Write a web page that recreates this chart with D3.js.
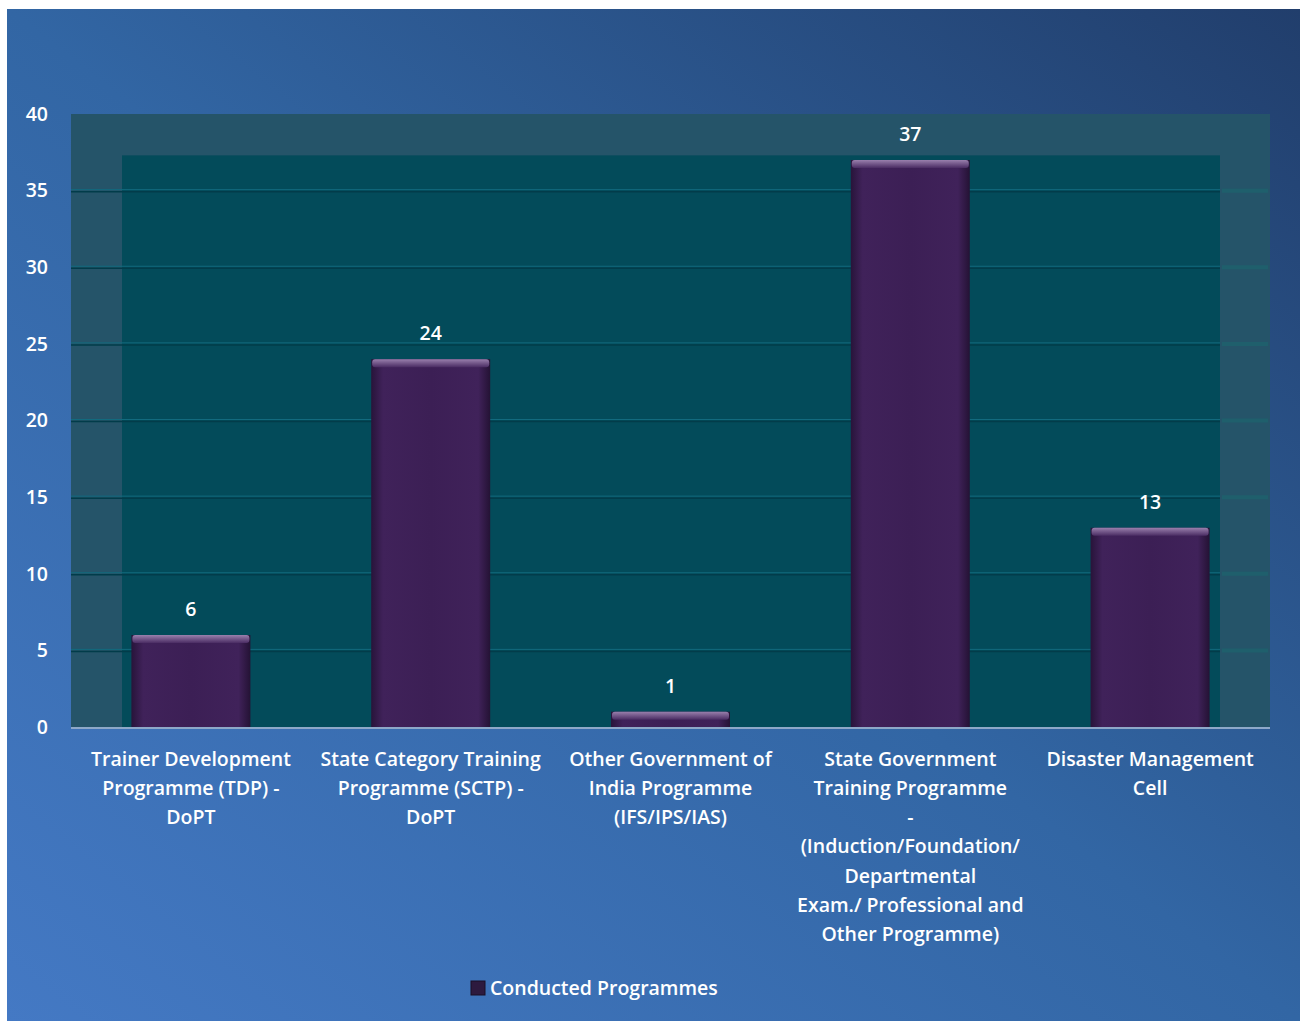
<!DOCTYPE html>
<html lang="en">
<head>
<meta charset="utf-8"/>
<title>Conducted Programmes</title>
<script src="https://d3js.org/d3.v7.min.js"></script>
<style>
	body { margin: 0; background: #fff; }
	text { font-family: "Open Sans", "Noto Sans", sans-serif; fill: #fff; font-weight: 600; }
</style>
</head>
<body>
<svg id="chart" width="1305" height="1021"></svg>
<script>
// data
var categories = ["TDP", "SCTP", "OGOI", "SGTP", "DMC"];
var labelLines = [
	["Trainer Development", "Programme (TDP) -", "DoPT"],
	["State Category Training", "Programme (SCTP) -", "DoPT"],
	["Other Government of", "India Programme", "(IFS/IPS/IAS)"],
	["State Government", "Training Programme", "-", "(Induction/Foundation/", "Departmental", "Exam./ Professional and", "Other Programme)"],
	["Disaster Management", "Cell"]
];
var values = [6, 24, 1, 37, 13];
var yTicks = [0, 5, 10, 15, 20, 25, 30, 35, 40];
var seriesName = "Conducted Programmes";

var svg = d3.select("#chart");

// background gradient
var defs = svg.append("defs");
var bg = defs.append("linearGradient")
	.attr("id", "bg")
	.attr("x1", "0%").attr("y1", "100%")
	.attr("x2", "100%").attr("y2", "0%");
bg.append("stop").attr("offset", "0%").attr("stop-color", "#4479c4");
bg.append("stop").attr("offset", "50%").attr("stop-color", "#3266a4");
bg.append("stop").attr("offset", "100%").attr("stop-color", "#213e6c");

var barGrad = defs.append("linearGradient")
	.attr("id", "bar")
	.attr("x1", "0%").attr("y1", "0%").attr("x2", "100%").attr("y2", "0%");
barGrad.append("stop").attr("offset", "0%").attr("stop-color", "#28143a");
barGrad.append("stop").attr("offset", "10%").attr("stop-color", "#40225a");
barGrad.append("stop").attr("offset", "50%").attr("stop-color", "#3c1f55");
barGrad.append("stop").attr("offset", "90%").attr("stop-color", "#40225a");
barGrad.append("stop").attr("offset", "100%").attr("stop-color", "#241234");

var capGrad = defs.append("linearGradient")
	.attr("id", "cap")
	.attr("x1", "0%").attr("y1", "0%").attr("x2", "0%").attr("y2", "100%");
capGrad.append("stop").attr("offset", "0%").attr("stop-color", "#9a80ad");
capGrad.append("stop").attr("offset", "100%").attr("stop-color", "#4a2c63");

svg.append("rect")
	.attr("x", 7).attr("y", 9)
	.attr("width", 1293).attr("height", 1012)
	.attr("fill", "url(#bg)");

// plot area
var plotL = 71, plotR = 1270, plotT = 114, plotB = 727;

var x = d3.scaleBand()
	.domain(categories)
	.range([plotL, plotR])
	.paddingInner(0)
	.paddingOuter(0);

var y = d3.scaleLinear()
	.domain([0, 40])
	.range([plotB, plotT]);

// outer wall + inner wall
svg.append("rect")
	.attr("x", plotL).attr("y", plotT)
	.attr("width", plotR - plotL).attr("height", plotB - plotT)
	.attr("fill", "#255469");
svg.append("rect")
	.attr("x", 122).attr("y", y(37.3))
	.attr("width", 1220 - 122).attr("height", plotB - y(37.3))
	.attr("fill", "#034b5a");

// gridlines
var gridTicks = yTicks.filter(function(d) { return d > 0 && d < 37; });
var grid = svg.append("g");
grid.selectAll("line.g1")
	.data(gridTicks)
	.enter().append("line")
	.attr("class", "g1")
	.attr("x1", plotL).attr("x2", 1220)
	.attr("y1", function(d) { return y(d) - 1; })
	.attr("y2", function(d) { return y(d) - 1; })
	.attr("stroke", "#126a7e").attr("stroke-width", 1);
grid.selectAll("line.g2")
	.data(gridTicks)
	.enter().append("line")
	.attr("class", "g2")
	.attr("x1", plotL).attr("x2", 1220)
	.attr("y1", function(d) { return y(d) + 1; })
	.attr("y2", function(d) { return y(d) + 1; })
	.attr("stroke", "#023c4a").attr("stroke-width", 1.5);
grid.selectAll("line.g3")
	.data(gridTicks)
	.enter().append("line")
	.attr("class", "g3")
	.attr("x1", 1222).attr("x2", 1268)
	.attr("y1", function(d) { return y(d); })
	.attr("y2", function(d) { return y(d); })
	.attr("stroke", "#1f5f6c").attr("stroke-width", 4);

// bars
var bw = 119;
var bars = svg.append("g").selectAll("g")
	.data(values)
	.enter().append("g");

bars.append("rect")
	.attr("x", function(d, i) { return x(categories[i]) + x.bandwidth() / 2 - bw / 2; })
	.attr("y", function(d) { return y(d); })
	.attr("width", bw)
	.attr("height", function(d) { return plotB - y(d); })
	.attr("fill", "url(#bar)");

bars.append("rect")
	.attr("x", function(d, i) { return x(categories[i]) + x.bandwidth() / 2 - bw / 2 + 1; })
	.attr("y", function(d) { return y(d); })
	.attr("width", bw - 2)
	.attr("height", function(d) { return Math.min(8, plotB - y(d)); })
	.attr("rx", 3)
	.attr("fill", "url(#cap)");

// value labels
svg.append("g").selectAll("text")
	.data(values)
	.enter().append("text")
	.attr("x", function(d, i) { return x(categories[i]) + x.bandwidth() / 2; })
	.attr("y", function(d) { return y(d) - 26; })
	.attr("dy", "0.35em")
	.attr("text-anchor", "middle")
	.attr("font-size", 19.5)
	.text(function(d) { return d; });

// x axis line
svg.append("line")
	.attr("x1", plotL).attr("x2", plotR)
	.attr("y1", plotB + 1).attr("y2", plotB + 1)
	.attr("stroke", "#8ea8c8").attr("stroke-width", 2);

// y axis labels
var yAxis = svg.append("g")
	.attr("transform", "translate(48,0)")
	.call(d3.axisLeft(y).tickValues(yTicks).tickSize(0).tickPadding(0));
yAxis.select(".domain").remove();
yAxis.selectAll("text")
	.attr("font-size", 19.5)
	.attr("fill", "#fff")
	.style("font-family", "'Open Sans', sans-serif");

// category labels
var cat = svg.append("g").selectAll("text")
	.data(labelLines)
	.enter().append("text")
	.attr("text-anchor", "middle")
	.attr("font-size", 19.5)
	.attr("transform", function(d, i) { return "translate(" + (x(categories[i]) + x.bandwidth() / 2) + ",759)"; });
cat.selectAll("tspan")
	.data(function(d) { return d; })
	.enter().append("tspan")
	.attr("x", 0)
	.attr("y", function(d, i) { return i * 29.2; })
	.attr("dy", "0.35em")
	.text(function(d) { return d; });

// legend
var lg = svg.append("g").attr("transform", "translate(471,988)");
lg.append("rect")
	.attr("x", 0).attr("y", -7)
	.attr("width", 14).attr("height", 14)
	.attr("fill", "#2d1a3e")
	.attr("stroke", "#1a0f25");
lg.append("text")
	.attr("x", 19).attr("y", 0)
	.attr("dy", "0.35em")
	.attr("font-size", 19.5)
	.text(seriesName);
</script>
</body>
</html>
